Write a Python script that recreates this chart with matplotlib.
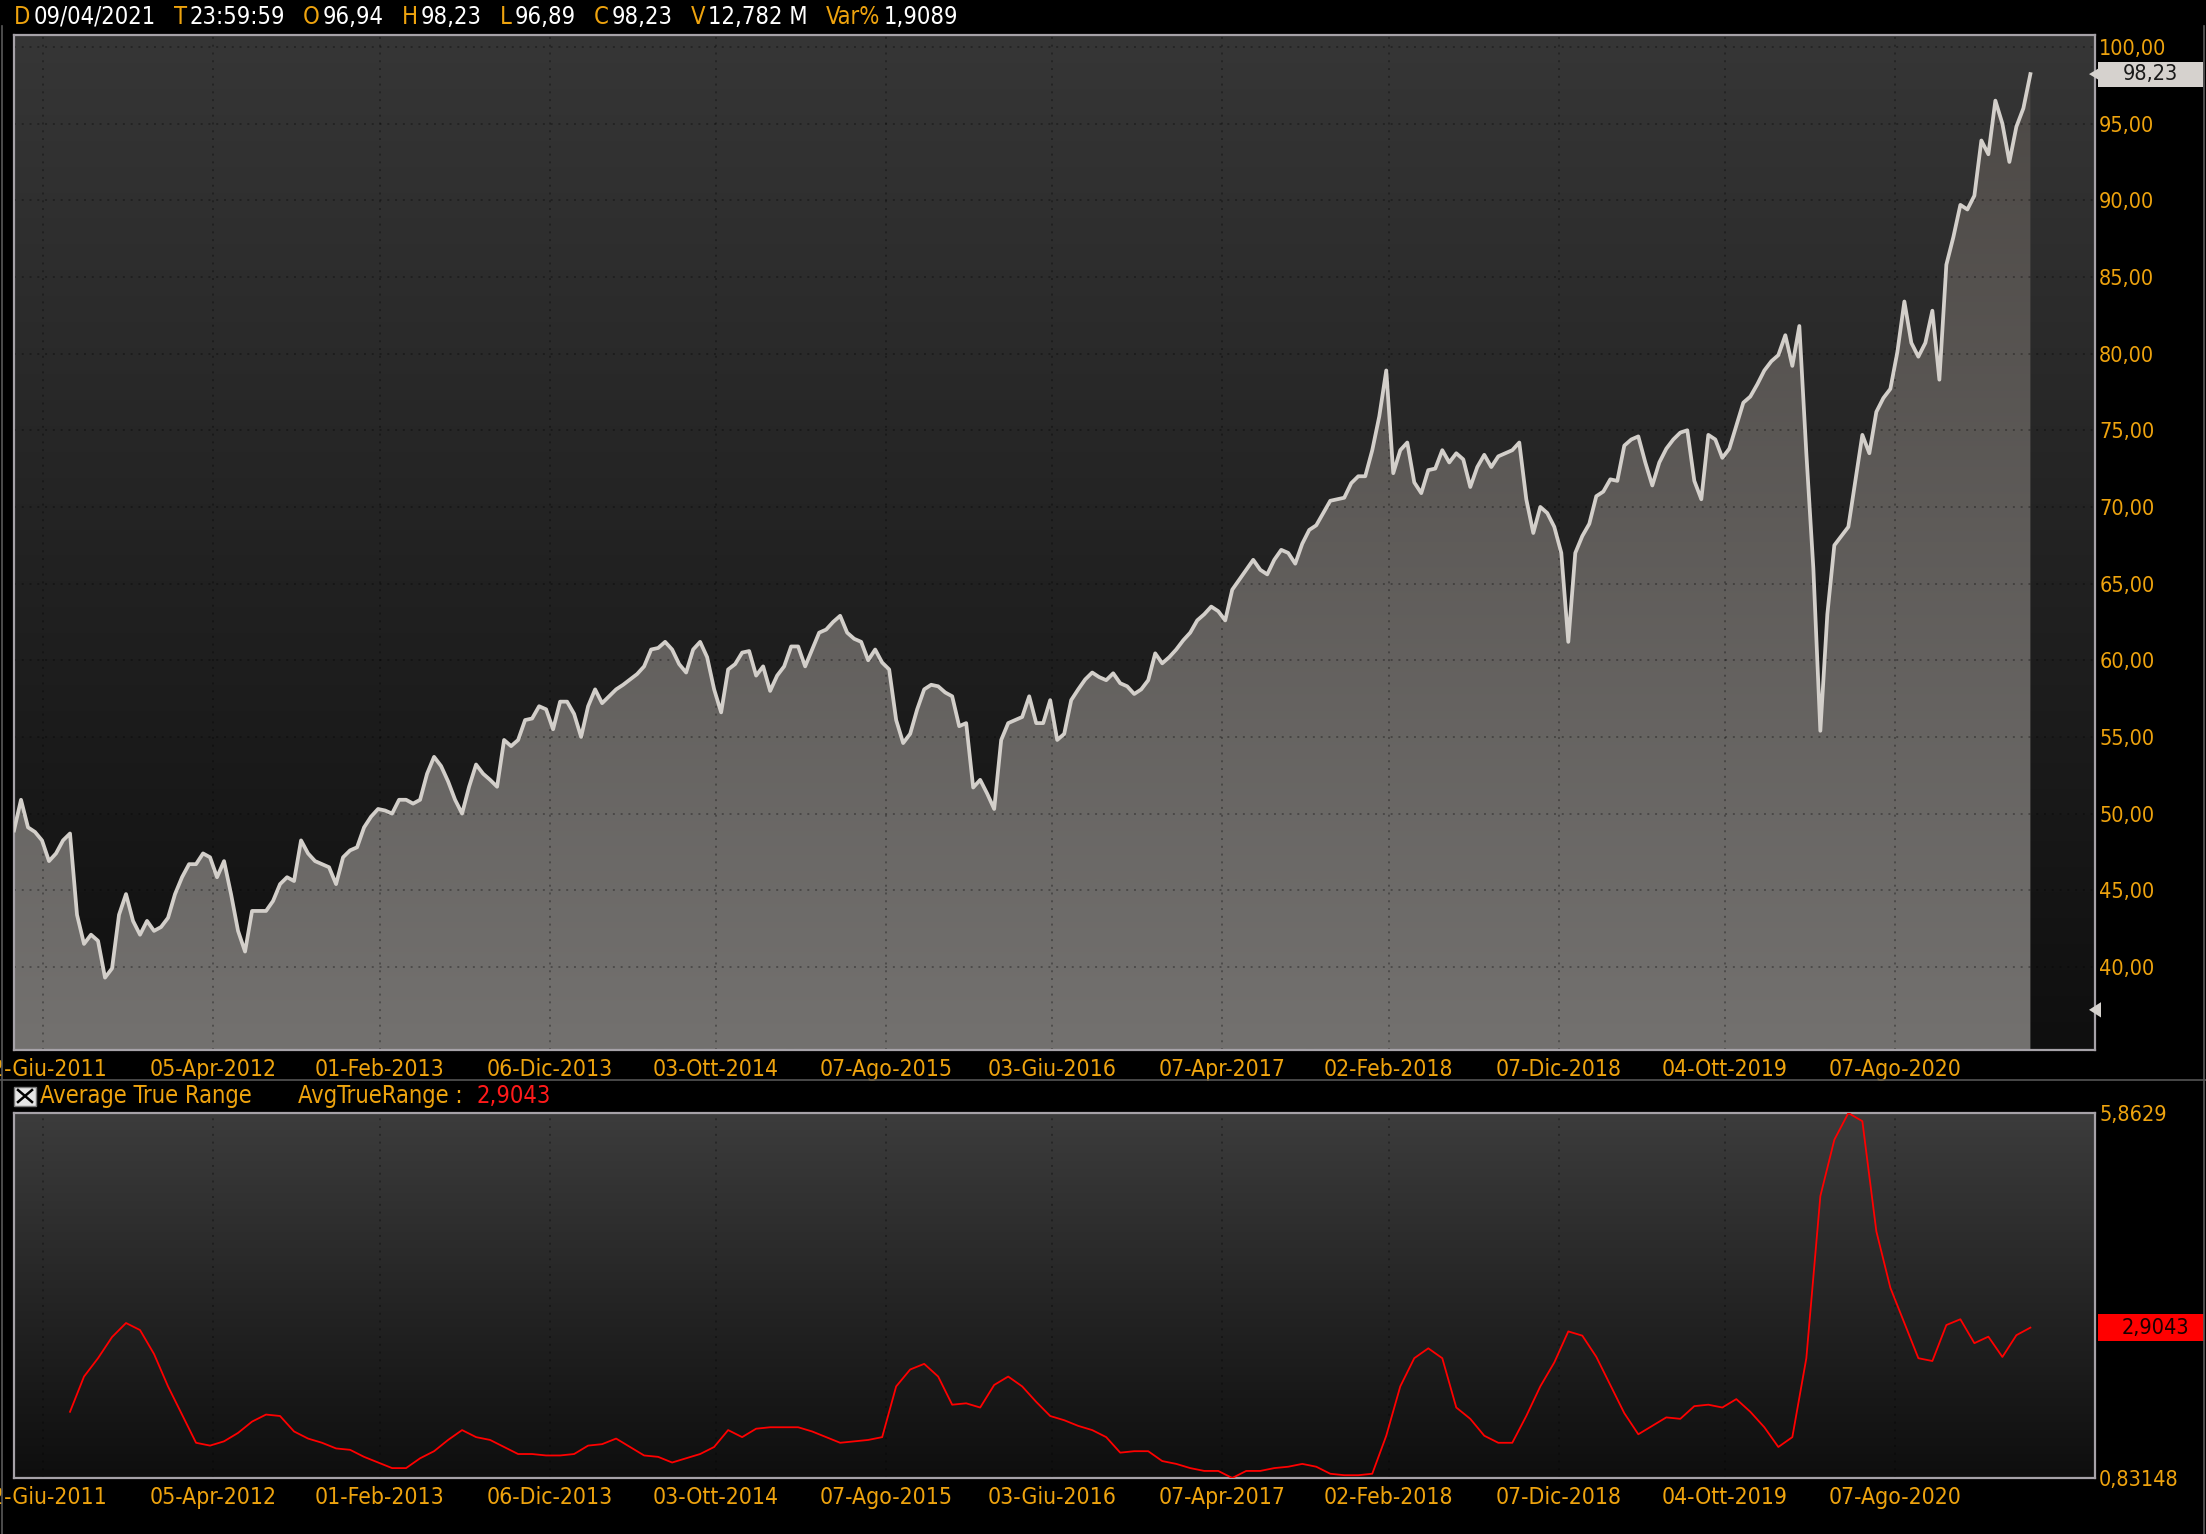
import os
import numpy as np
import pandas as pd
import matplotlib
matplotlib.use('Agg')
import matplotlib.pyplot as plt
import matplotlib.dates as mdates
import matplotlib.transforms as mtransforms
from matplotlib import font_manager
from matplotlib.font_manager import FontProperties
from matplotlib.patches import Rectangle, Polygon
from matplotlib.lines import Line2D

# --- dati ---
START, END = '2011-04-11', '2021-04-09'
close = [48.9, 50.9, 49.1, 48.8, 48.25, 46.9, 47.4, 48.25, 48.7, 43.4,
         41.5, 42.1, 41.7, 39.3, 39.9, 43.4, 44.75, 43.0, 42.1, 43.0,
         42.35, 42.6, 43.2, 44.75, 45.85, 46.7, 46.7, 47.4, 47.15, 45.85,
         46.9, 44.75, 42.35, 41.0, 43.65, 43.65, 43.65, 44.3, 45.4, 45.85,
         45.6, 48.25, 47.4, 46.9, 46.7, 46.5, 45.4, 47.15, 47.6, 47.8,
         49.1, 49.8, 50.3, 50.2, 50.0, 50.9, 50.9, 50.65, 50.9, 52.6,
         53.7, 53.1, 52.1, 50.9, 50.0, 51.75, 53.2, 52.6, 52.2, 51.75,
         54.8, 54.4, 54.8, 56.1, 56.2, 57.0, 56.8, 55.5, 57.3, 57.3,
         56.5, 55.0, 57.0, 58.1, 57.2, 57.65, 58.1, 58.4, 58.75, 59.1,
         59.6, 60.7, 60.8, 61.2, 60.7, 59.75, 59.2, 60.7, 61.2, 60.2,
         58.1, 56.6, 59.4, 59.75, 60.5, 60.6, 59.0, 59.6, 58.0, 59.0,
         59.6, 60.9, 60.9, 59.6, 60.7, 61.8, 62.0, 62.5, 62.9, 61.8,
         61.4, 61.2, 60.0, 60.7, 59.85, 59.4, 56.1, 54.6, 55.2, 56.8,
         58.1, 58.4, 58.3, 57.9, 57.65, 55.7, 55.9, 51.7, 52.2, 51.3,
         50.3, 54.8, 55.9, 56.1, 56.3, 57.65, 55.9, 55.9, 57.4, 54.8,
         55.2, 57.4, 58.1, 58.75, 59.2, 58.9, 58.7, 59.15, 58.5, 58.3,
         57.8, 58.1, 58.7, 60.45, 59.8, 60.2, 60.7, 61.3, 61.8, 62.6,
         63.0, 63.5, 63.2, 62.6, 64.6, 65.25, 65.9, 66.55, 65.9, 65.6,
         66.55, 67.2, 67.0, 66.3, 67.6, 68.5, 68.8, 69.6, 70.4, 70.5,
         70.6, 71.55, 72.0, 72.0, 73.7, 75.9, 78.9, 72.2, 73.7, 74.2,
         71.6, 70.9, 72.4, 72.5, 73.7, 72.9, 73.5, 73.1, 71.3, 72.6,
         73.4, 72.6, 73.3, 73.5, 73.7, 74.2, 70.5, 68.3, 70.0, 69.6,
         68.7, 67.0, 61.2, 67.0, 68.1, 68.9, 70.7, 71.0, 71.8, 71.7,
         74.0, 74.4, 74.6, 72.9, 71.4, 72.9, 73.8, 74.4, 74.85, 75.0,
         71.7, 70.5, 74.7, 74.4, 73.2, 73.8, 75.3, 76.8, 77.2, 78.0,
         78.9, 79.5, 79.9, 81.2, 79.2, 81.8, 73.5, 66.0, 55.4, 63.0,
         67.5, 68.1, 68.7, 71.7, 74.7, 73.5, 76.2, 77.1, 77.7, 80.1,
         83.4, 80.7, 79.8, 80.7, 82.8, 78.3, 85.8, 87.6, 89.7, 89.4,
         90.3, 93.9, 93.0, 96.5, 95.0, 92.5, 94.8, 96.0, 98.23]

# ATR campionato una barra si' e una no rispetto al prezzo, parte dopo 4 campioni
ATR_START = 4
atr = [1.744, 2.230, 2.483, 2.774, 2.968, 2.871, 2.541, 2.094, 1.706, 1.317,
       1.278, 1.337, 1.453, 1.609, 1.706, 1.686, 1.473, 1.375, 1.317, 1.239,
       1.220, 1.123, 1.045, 0.968, 0.968, 1.103, 1.201, 1.356, 1.492, 1.395,
       1.356, 1.259, 1.162, 1.162, 1.142, 1.142, 1.162, 1.278, 1.298, 1.375,
       1.259, 1.142, 1.123, 1.045, 1.103, 1.162, 1.259, 1.492, 1.395, 1.511,
       1.531, 1.531, 1.531, 1.473, 1.395, 1.317, 1.337, 1.356, 1.395, 2.094,
       2.327, 2.405, 2.230, 1.842, 1.861, 1.803, 2.114, 2.230, 2.094, 1.881,
       1.686, 1.628, 1.550, 1.492, 1.395, 1.181, 1.201, 1.201, 1.065, 1.026,
       0.968, 0.929, 0.929, 0.83148, 0.929, 0.929, 0.968, 0.987, 1.026, 0.987,
       0.890, 0.870, 0.870, 0.890, 1.414, 2.094, 2.483, 2.619, 2.483, 1.803,
       1.647, 1.414, 1.317, 1.317, 1.686, 2.094, 2.424, 2.852, 2.794, 2.502,
       2.114, 1.725, 1.434, 1.550, 1.667, 1.647, 1.822, 1.842, 1.803, 1.919,
       1.744, 1.531, 1.259, 1.395, 2.483, 4.717, 5.494, 5.8629, 5.75, 4.231,
       3.454, 2.968, 2.483, 2.444, 2.94, 3.02, 2.69, 2.78, 2.50, 2.80,
       2.9043]

tick_dates = ['2011-06-02', '2012-04-05', '2013-02-01', '2013-12-06', '2014-10-03',
              '2015-08-07', '2016-06-03', '2017-04-07', '2018-02-02', '2018-12-07',
              '2019-10-04', '2020-08-07']
tick_labels = ['02-Giu-2011', '05-Apr-2012', '01-Feb-2013', '06-Dic-2013', '03-Ott-2014',
               '07-Ago-2015', '03-Giu-2016', '07-Apr-2017', '02-Feb-2018', '07-Dic-2018',
               '04-Ott-2019', '07-Ago-2020']
price_ticks = [40, 45, 50, 55, 60, 65, 70, 75, 80, 85, 90, 95, 100]
header = [('D', '09/04/2021'), ('T', '23:59:59'), ('O', '96,94'), ('H', '98,23'),
          ('L', '96,89'), ('C', '98,23'), ('V', '12,782 M'), ('Var%', '1,9089')]
last_close = 98.23
last_atr = 2.9043
low_mark = 37.2

ORANGE = '#eea30e'
W, H = 2206, 1534

# font stretto se disponibile
narrow = None
for name in ('DejaVuSansCondensed.ttf', 'LiberationSansNarrow-Regular.ttf'):
    for f in font_manager.fontManager.ttflist:
        if os.path.basename(f.fname) == name:
            narrow = f.fname
            break
    if narrow:
        break


def fp(size):
    if narrow:
        return FontProperties(fname=narrow, size=size)
    return FontProperties(family='DejaVu Sans', size=size * 0.9)


def gradient(ax, top, bottom, extent, zorder=0, clip=None):
    c0 = np.array(matplotlib.colors.to_rgb(top))
    c1 = np.array(matplotlib.colors.to_rgb(bottom))
    t = np.linspace(0, 1, 256)[:, None]
    img = (c0 * (1 - t) + c1 * t)[:, None, :]
    im = ax.imshow(img, extent=extent, aspect='auto', origin='upper',
                   zorder=zorder, interpolation='bilinear')
    if clip is not None:
        im.set_clip_path(clip, ax.transData)
    return im


x = mdates.date2num(pd.date_range(START, END, periods=len(close)))
x_atr = x[::2][ATR_START:ATR_START + len(atr)]
xlim = (mdates.date2num(pd.Timestamp('2011-04-11')), mdates.date2num(pd.Timestamp('2021-08-04')))
ylim1 = (34.58, 100.78)
ylim2 = (min(atr), max(atr))
xt = mdates.date2num(pd.to_datetime(tick_dates))

fig = plt.figure(figsize=(W / 100, H / 100), dpi=100, facecolor='black')
ax1 = fig.add_axes([14 / W, 1 - 1050 / H, 2081 / W, 1015 / H])
ax2 = fig.add_axes([14 / W, 1 - 1478 / H, 2081 / W, 365 / H])

# --- pannello prezzo ---
gradient(ax1, '#363636', '#0f0f0f', [xlim[0], xlim[1], ylim1[0], ylim1[1]], zorder=0)
coll = ax1.fill_between(x, close, ylim1[0], facecolor='none', edgecolor='none')
gradient(ax1, '#4b4744', '#73716f', [xlim[0], xlim[1], ylim1[0], ylim1[1]], zorder=1,
         clip=coll.get_paths()[0])
ax1.plot(x, close, color='#d3cfca', lw=2.7, zorder=3)

# --- pannello ATR ---
gradient(ax2, '#3c3c3c', '#0e0e0e', [xlim[0], xlim[1], ylim2[0], ylim2[1]], zorder=0)
ax2.plot(x_atr, atr, color='#ff0000', lw=1.3, zorder=3)

for ax, yl in ((ax1, ylim1), (ax2, ylim2)):
    ax.set_xlim(*xlim)
    ax.set_ylim(*yl)
    ax.set_facecolor('#111111')
    for s in ax.spines.values():
        s.set_color('#a6a2a8')
        s.set_linewidth(1.6)
    ax.set_xticks(xt, labels=tick_labels)
    ax.yaxis.tick_right()
    ax.tick_params(axis='both', length=0, colors=ORANGE)
    ax.tick_params(axis='x', pad=6)
    ax.tick_params(axis='y', pad=3)
    ax.set_axisbelow('line')
    ax.grid(axis='x', color='black', alpha=0.3, lw=1.4, linestyle=(0, (1, 3)))

ax1.set_yticks(price_ticks, labels=[f'{v:.2f}'.replace('.', ',') for v in price_ticks])
ax1.grid(axis='y', color='black', alpha=0.3, lw=1.4, linestyle=(0, (1, 3)))
ax2.set_yticks(ylim2, labels=['0,83148', '5,8629'])

for ax in (ax1, ax2):
    for lab in ax.get_xticklabels():
        lab.set_fontproperties(fp(16.5))
        lab.set_color(ORANGE)
    for lab in ax.get_yticklabels():
        lab.set_fontproperties(fp(15.5))
        lab.set_color(ORANGE)

# etichetta ultimo prezzo
tr1 = mtransforms.blended_transform_factory(ax1.transAxes, ax1.transData)
bx0, bx1 = (2098 - 14) / 2081, (2203 - 14) / 2081
tip = (2089 - 14) / 2081
h1 = 25 / 15.333
ax1.add_patch(Rectangle((bx0, last_close - h1 / 2), bx1 - bx0, h1, transform=tr1,
                        facecolor='#d6d2ce', edgecolor='none', clip_on=False, zorder=5))
ax1.add_patch(Polygon([(tip, last_close), (bx0, last_close + 0.35), (bx0, last_close - 0.35)],
                      transform=tr1, facecolor='#d6d2ce', edgecolor='none', clip_on=False, zorder=5))
ax1.text((bx0 + bx1) / 2, last_close, f'{last_close:.2f}'.replace('.', ','), transform=tr1,
         ha='center', va='center', color='#1a1a1a', fontproperties=fp(15.5), zorder=6)
tip2, base2 = (2089 - 14) / 2081, (2101 - 14) / 2081
ax1.add_patch(Polygon([(tip2, low_mark), (base2, low_mark + 0.5), (base2, low_mark - 0.5)],
                      transform=tr1, facecolor='#d6d2ce', edgecolor='none', clip_on=False, zorder=5))

# etichetta ultimo ATR
tr2 = mtransforms.blended_transform_factory(ax2.transAxes, ax2.transData)
h2 = 27 * (ylim2[1] - ylim2[0]) / 365
ax2.add_patch(Rectangle((bx0, last_atr - h2 / 2), (2204 - 2098) / 2081, h2, transform=tr2,
                        facecolor='#ff0000', edgecolor='none', clip_on=False, zorder=5))
ax2.text((2155 - 14) / 2081, last_atr, f'{last_atr:.4f}'.replace('.', ','), transform=tr2,
         ha='center', va='center', color='#1a0000', fontproperties=fp(15.5), zorder=6)

# intestazione
renderer = fig.canvas.get_renderer()
xp = 14
yh = 1 - 17 / H
for key, val in header:
    t = fig.text(xp / W, yh, key, color=ORANGE, fontproperties=fp(17), va='center', ha='left')
    xp += t.get_window_extent(renderer).width + 3
    t = fig.text(xp / W, yh, val, color='white', fontproperties=fp(17), va='center', ha='left')
    xp += t.get_window_extent(renderer).width + 18

# intestazione ATR
ya = 1 - 1096 / H
fig.patches.append(Rectangle((14 / W, 1 - 1106 / H), 22 / W, 19 / H, transform=fig.transFigure,
                             facecolor='#e6e6e6', edgecolor='#7a7a7a', lw=1))
fig.lines.append(Line2D([18 / W, 32 / W], [1 - 1090 / H, 1 - 1102 / H], transform=fig.transFigure,
                        color='black', lw=1.8))
fig.lines.append(Line2D([18 / W, 32 / W], [1 - 1102 / H, 1 - 1090 / H], transform=fig.transFigure,
                        color='black', lw=1.8))
fig.text(40 / W, ya, 'Average True Range', color=ORANGE, fontproperties=fp(17), va='center')
t = fig.text(298 / W, ya, 'AvgTrueRange :', color=ORANGE, fontproperties=fp(17), va='center')
xv = 298 + t.get_window_extent(renderer).width + 14
fig.text(xv / W, ya, f'{last_atr:.4f}'.replace('.', ','), color='#ff1a1a', fontproperties=fp(17),
         va='center')

# bordi della finestra
for xx in (1.5, 2204):
    fig.lines.append(Line2D([xx / W, xx / W], [0, 1 - 26 / H], transform=fig.transFigure,
                            color='#5a5a5a', lw=1.2))
fig.lines.append(Line2D([0, 1], [1 - 1080 / H, 1 - 1080 / H], transform=fig.transFigure,
                        color='#555555', lw=1.2))

fig.savefig('out.png', dpi=100, facecolor='black')
